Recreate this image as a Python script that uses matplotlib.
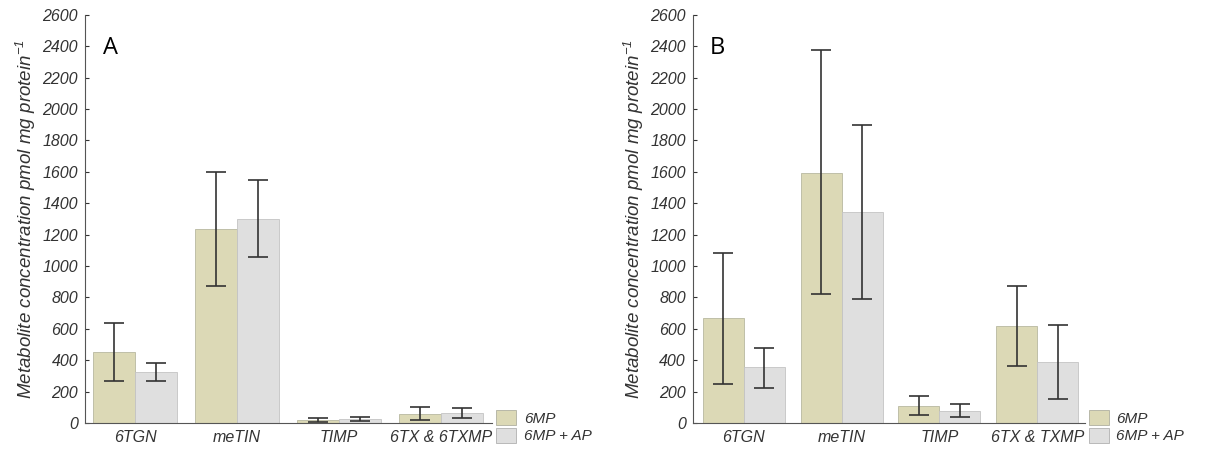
import numpy as np
import matplotlib.pyplot as plt
from matplotlib.patches import Patch

plt.rcParams['font.family'] = ['Liberation Sans', 'DejaVu Sans']
plt.rcParams['mathtext.fontset'] = 'custom'
plt.rcParams['mathtext.rm'] = 'Liberation Sans:italic'
plt.rcParams['mathtext.it'] = 'Liberation Sans:italic'

# data (pmol / mg protein)
cats_a = ['6TGN', 'meTIN', 'TIMP', '6TX & 6TXMP']
cats_b = ['6TGN', 'meTIN', 'TIMP', '6TX & TXMP']

# panel A
a_mp = [455, 1235, 17, 59]
a_mp_lo = [270, 870, 9, 17]
a_mp_hi = [640, 1600, 32, 104]
a_ap = [325, 1300, 25, 64]
a_ap_lo = [265, 1055, 13, 30]
a_ap_hi = [385, 1550, 38, 94]

# panel B
b_mp = [670, 1595, 108, 620]
b_mp_lo = [250, 820, 51, 365]
b_mp_hi = [1085, 2375, 174, 875]
b_ap = [355, 1345, 76, 390]
b_ap_lo = [225, 790, 36, 155]
b_ap_hi = [475, 1900, 118, 625]

c_mp = '#dcd9b6'
c_ap = '#dfdfdf'
c_txt = '#333333'

fig = plt.figure(figsize=(12.23, 4.5), dpi=100)
axA = fig.add_axes([0.0695, 0.06, 0.333, 0.907])
axB = fig.add_axes([0.5666, 0.06, 0.3206, 0.907])


def panel(ax, cats, mp, mp_lo, mp_hi, ap, ap_lo, ap_hi, letter, xlim, w):
    x = np.arange(len(cats))
    mp = np.array(mp); ap = np.array(ap)
    err_mp = [mp - np.array(mp_lo), np.array(mp_hi) - mp]
    err_ap = [ap - np.array(ap_lo), np.array(ap_hi) - ap]
    ax.bar(x - w / 2, mp, w, color=c_mp, edgecolor='#b8b8a0', linewidth=0.6)
    ax.bar(x + w / 2, ap, w, color=c_ap, edgecolor='#c4c4c4', linewidth=0.6)
    ax.errorbar(x - w / 2, mp, yerr=err_mp, fmt='none', ecolor=c_txt,
                elinewidth=1.2, capsize=7.5, capthick=1.2)
    ax.errorbar(x + w / 2, ap, yerr=err_ap, fmt='none', ecolor=c_txt,
                elinewidth=1.2, capsize=7.5, capthick=1.2)
    ax.set_xlim(*xlim)
    ax.set_ylim(0, 2600)
    ax.set_yticks(np.arange(0, 2601, 200))
    ax.set_xticks(x)
    ax.set_xticklabels(cats, fontsize=11.5, style='italic', color=c_txt)
    ax.tick_params(axis='x', length=0, pad=5)
    ax.tick_params(axis='y', direction='in', length=3, labelsize=11.5,
                   labelcolor=c_txt, color=c_txt, pad=5)
    for t in ax.get_yticklabels():
        t.set_style('italic')
    for s in ['top', 'right']:
        ax.spines[s].set_visible(False)
    ax.spines['left'].set_color('#555555')
    ax.spines['bottom'].set_color('#555555')
    ax.set_ylabel('Metabolite concentration pmol mg protein$^{-1}$',
                  fontsize=13.5, style='italic', color=c_txt, labelpad=3)
    ax.text(0.044, 0.919, letter, transform=ax.transAxes, fontsize=17,
            color='black', va='center', ha='left', family='Open Sans')
    handles = [Patch(facecolor=c_mp, edgecolor='#b0b0a0', linewidth=0.6),
               Patch(facecolor=c_ap, edgecolor='#b0b0b0', linewidth=0.6)]
    leg = ax.legend(handles, ['6MP', '6MP + AP'], loc='lower left',
                    bbox_to_anchor=(1.01, -0.05), frameon=False,
                    handlelength=1.3, handleheight=1.1, handletextpad=0.5,
                    labelspacing=0.15, borderaxespad=0, borderpad=0,
                    prop={'size': 11, 'style': 'italic'})
    for t in leg.get_texts():
        t.set_color(c_txt)


panel(axA, cats_a, a_mp, a_mp_lo, a_mp_hi, a_ap, a_ap_lo, a_ap_hi, 'A',
      (-0.49, 3.5), 0.41)
panel(axB, cats_b, b_mp, b_mp_lo, b_mp_hi, b_ap, b_ap_lo, b_ap_hi, 'B',
      (-0.52, 3.49), 0.42)

fig.savefig('out.png', dpi=100)
